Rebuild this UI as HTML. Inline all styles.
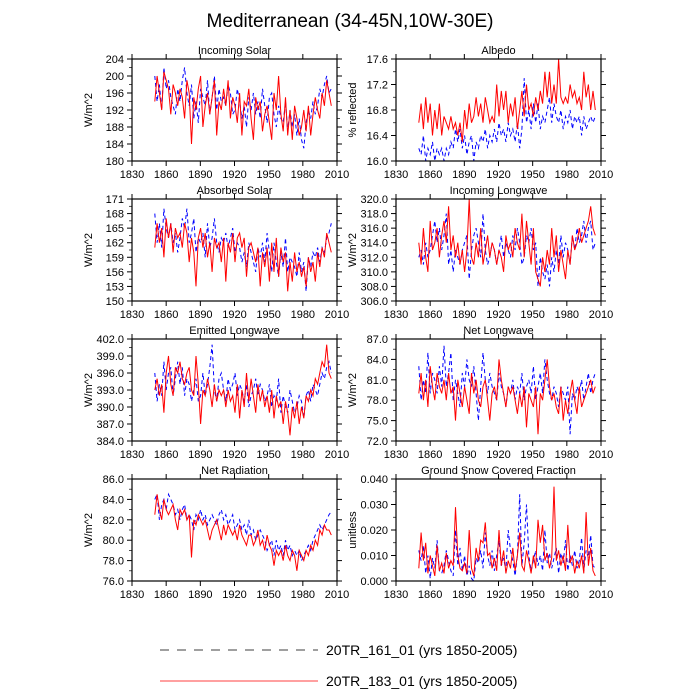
<!DOCTYPE html>
<html><head><meta charset="utf-8">
<style>
html,body{margin:0;padding:0;background:#fff;}
svg{display:block;font-family:"Liberation Sans",Arial,sans-serif;}
</style></head>
<body>
<svg id="chart" width="700" height="700" viewBox="0 0 700 700" xmlns="http://www.w3.org/2000/svg">
<text x="350" y="27" text-anchor="middle" font-size="19">Mediterranean (34-45N,10W-30E)</text>
<g>
<line x1="160" y1="650" x2="318" y2="650" stroke="#000" stroke-width="0.8" stroke-dasharray="9,8"/>
<text x="326" y="655" font-size="14">20TR_161_01 (yrs 1850-2005)</text>
<line x1="160" y1="681" x2="318" y2="681" stroke="#f00" stroke-width="0.8"/>
<text x="326" y="686" font-size="14">20TR_183_01 (yrs 1850-2005)</text>
</g>
</svg>
<script>
const startYear = 1850, endYear = 2005;
const xTicks = [1830,1860,1890,1920,1950,1980,2010];
const titles = ["Incoming Solar","Albedo","Absorbed Solar","Incoming Longwave","Emitted Longwave","Net Longwave","Net Radiation","Ground Snow Covered Fraction"];
const yTitles = ["W/m^2","% reflected","W/m^2","W/m^2","W/m^2","W/m^2","W/m^2","unitless"];
const yMins = [180,16.0,150,306,384,72,76,0];
const yMaxs = [204,17.6,171,320,402,87,86,0.04];
const ySteps = [4,0.4,3,2,3,3,2,0.01];
const yDecimals = [0,1,0,1,1,1,1,3];

const red0 = [194,200,196,192,201,199,197,191,198,196,193,197,195,190,199,196,184,195,192,197,200,188,193,196,191,195,199,186,194,192,197,193,199,190,195,193,189,196,186,194,193,197,190,185,195,192,194,187,191,193,189,185,196,192,200,191,187,195,186,192,185,193,190,186,188,192,187,193,186,191,195,192,190,196,193,199,196,193];
const blue0 = [200,194,198,192,202,197,199,195,193,191,197,194,199,202,196,193,198,190,194,189,197,195,193,199,191,195,200,192,197,194,195,193,198,196,191,192,197,194,190,193,188,195,192,196,191,194,190,197,193,189,195,196,191,188,193,190,189,194,187,192,188,191,186,190,185,183,189,192,190,194,191,193,197,195,198,200,196,197];
const red1 = [16.6,16.9,16.5,17.0,16.6,16.9,16.4,16.8,16.5,16.9,16.4,16.7,16.6,16.5,16.7,16.5,16.6,16.4,16.6,16.3,16.8,16.5,16.9,16.6,16.7,17.0,16.7,16.9,16.6,17.0,16.8,16.6,16.7,16.6,17.2,16.7,17.1,16.8,17.1,16.6,16.9,16.7,17.0,16.5,16.8,17.1,16.7,17.2,16.8,16.9,16.7,17.0,16.8,17.1,16.9,17.4,17.0,17.4,16.9,17.2,16.9,17.6,17.0,16.9,17.0,16.9,17.2,17.0,17.1,16.9,17.0,16.8,17.4,17.0,17.2,16.8,17.1,16.8];
const blue1 = [16.2,16.1,16.4,16.0,16.2,16.1,16.3,16.0,16.2,16.1,16.2,16.0,16.2,16.1,16.3,16.2,16.5,16.3,16.5,16.2,16.4,16.1,16.3,16.4,16.0,16.3,16.2,16.4,16.3,16.5,16.2,16.4,16.3,16.5,16.3,16.6,16.4,16.5,16.3,16.6,16.4,16.5,16.3,16.6,16.2,16.5,17.3,16.6,16.8,16.5,16.9,16.6,16.9,16.5,16.7,16.6,16.8,17.0,16.6,16.9,16.7,16.6,16.8,16.5,16.7,16.6,16.8,16.5,16.7,16.6,16.7,16.4,16.7,16.5,16.6,16.7,16.6,16.7];
const red2 = [161,166,162,165,159,167,163,166,160,165,163,164,161,166,164,158,163,160,153,163,165,161,164,159,162,156,163,161,162,158,163,154,162,160,164,158,163,164,161,163,155,161,162,160,158,161,153,160,157,161,154,162,156,163,155,161,158,160,152,158,154,160,156,158,155,157,153,159,156,158,154,160,157,161,159,164,162,160];
const blue2 = [168,162,166,161,169,165,163,166,162,164,160,163,167,165,169,162,164,167,160,163,162,164,159,166,161,163,167,162,160,163,162,164,161,163,165,160,162,161,158,160,157,162,160,158,156,161,159,162,158,164,160,156,162,158,155,160,157,163,156,159,158,157,155,160,156,158,152,159,157,160,159,161,158,161,160,163,164,166];
const red3 = [314,311,316,312,310,317,313,314,316,312,315,317,314,319,313,315,312,314,311,313,310,313,320,312,311,314,312,316,311,313,315,312,314,313,311,313,312,310,315,313,314,312,316,314,313,318,312,317,314,311,316,310,309,308,312,310,313,311,316,312,315,310,313,311,309,313,311,315,313,314,316,314,315,316,317,319,316,315];
const blue3 = [312,313,311,314,312,313,315,317,314,316,313,315,318,311,313,310,313,312,311,313,314,315,309,313,315,316,314,312,318,313,311,312,314,313,311,313,315,312,314,313,312,315,313,316,314,311,312,315,314,316,313,314,308,312,310,309,311,308,312,310,313,311,315,312,314,313,311,315,313,316,314,315,317,314,316,317,313,314];
const red4 = [393,395,392,394,389,396,399,394,392,397,396,398,395,394,396,397,393,392,399,394,387,393,392,395,393,390,394,391,393,392,393,390,393,391,392,389,394,388,393,390,396,391,395,392,389,394,391,393,390,392,389,393,388,392,390,391,387,391,389,385,390,388,391,387,390,388,392,391,393,392,395,394,396,398,397,401,396,395];
const blue4 = [396,391,394,392,398,393,396,397,392,395,398,394,397,392,395,394,391,393,395,391,392,396,392,394,397,401,393,391,395,396,393,391,395,393,394,396,392,394,393,391,394,390,392,393,395,392,394,393,391,392,394,390,392,391,395,389,392,390,389,393,391,389,390,392,391,388,392,393,391,394,393,392,394,396,395,397,398,396];
const red5 = [79,82,78,81,77,83,80,78,82,80,79,81,78,82,79,80,75,81,79,77,80,78,76,82,79,81,78,77,80,81,78,75,79,80,78,84,81,79,77,80,79,80,78,76,79,77,80,74,79,78,77,80,73,79,78,81,84,80,78,79,77,76,80,75,78,76,79,81,78,76,80,77,78,79,80,81,79,80];
const blue5 = [83,78,81,79,85,79,82,81,79,83,80,86,80,82,85,78,81,79,77,82,80,84,81,80,83,79,75,80,85,81,79,82,80,79,78,82,80,79,77,80,79,81,78,80,79,82,78,80,81,79,83,78,80,82,79,84,81,79,78,80,79,77,80,79,78,80,73,79,78,80,79,81,78,80,82,79,81,82];
const red6 = [82.5,84.5,83,82,84,83,82.5,83,83.5,82,81,83,82.5,83,82,82.5,78.3,82,81.5,82.5,82,81.5,82,81,80,81,81.5,82,81,80,81.5,80.5,81.5,81,80.5,81,80,81.5,80.5,80,79.5,80.5,80.5,79.5,80,81,79.5,80,79,80.5,79.5,79,77.5,79,78.5,79,78,79.5,78.5,78,79,78.5,77,79,78.5,78,79,78.5,79.5,79,80,79.5,81,80.5,81.5,81,81,80.5];
const blue6 = [84,84.5,82,83.5,84,83,84.5,84,83.5,82.5,83,82,83,83.5,82,82.5,82,81,82.5,82,83,82,82.5,81.5,82,82.5,82,81.5,82.5,83,82,82.5,81.5,82,82.5,81,81.5,82,81,81.5,80.5,82,80.5,81,80,80.5,81,80.5,80,79,79.5,80,78.5,80,79,79.5,78.5,80,79,79.5,78.5,79,78.5,79,78,78.5,79,79.5,79,80,80.5,81,81.5,81,81.5,82,82.5,82.8];
const red7 = [0.005,0.019,0.008,0.015,0.003,0.010,0.006,0.002,0.014,0.004,0.007,0.003,0.011,0.005,0.008,0.006,0.029,0.010,0.005,0.004,0.007,0.003,0.020,0.005,0.002,0.013,0.008,0.016,0.015,0.023,0.010,0.011,0.005,0.009,0.004,0.020,0.006,0.012,0.003,0.008,0.005,0.013,0.004,0.010,0.019,0.006,0.004,0.012,0.008,0.003,0.010,0.005,0.024,0.015,0.022,0.008,0.011,0.005,0.009,0.037,0.008,0.012,0.006,0.010,0.004,0.022,0.007,0.010,0.003,0.008,0.005,0.010,0.003,0.027,0.006,0.013,0.004,0.002];
const blue7 = [0.012,0.008,0.014,0.003,0.010,0.001,0.009,0.005,0.016,0.004,0.003,0.006,0.012,0.008,0.004,0.002,0.020,0.006,0.013,0.004,0.010,0.002,0.006,0.001,0.000,0.009,0.007,0.012,0.005,0.019,0.010,0.006,0.012,0.004,0.010,0.016,0.006,0.009,0.004,0.020,0.012,0.008,0.002,0.010,0.034,0.006,0.015,0.030,0.010,0.004,0.008,0.012,0.006,0.010,0.004,0.020,0.007,0.011,0.005,0.009,0.013,0.003,0.011,0.007,0.016,0.004,0.010,0.006,0.012,0.005,0.008,0.017,0.004,0.012,0.009,0.018,0.006,0.005];
const redSeries = [red0,red1,red2,red3,red4,red5,red6,red7];
const blueSeries = [blue0,blue1,blue2,blue3,blue4,blue5,blue6,blue7];

const NS = "http://www.w3.org/2000/svg";
const svg = document.getElementById("chart");
function mk(tag, attrs, parent){
  const e = document.createElementNS(NS, tag);
  for (const k in attrs) e.setAttribute(k, attrs[k]);
  (parent||svg).appendChild(e);
  return e;
}
const panelW = 205, panelH = 102;
const lefts = [132, 396];
const tops = [59, 199, 339, 479];

for (let p = 0; p < 8; p++) {
  const L = lefts[p % 2], T = tops[Math.floor(p / 2)], R = L + panelW, B = T + panelH;
  const g = mk("g", {});
  
  
  const xS = v => L + (v - 1830) / 180 * panelW;
  const yS = v => B - (v - yMins[p]) / (yMaxs[p] - yMins[p]) * panelH;

  const t = mk("text", {x: (L + R) / 2, y: T - 5, "text-anchor": "middle", "font-size": "11"}, g);
  t.textContent = titles[p];
  
  

  const yt = mk("text", {x: 0, y: 0, "text-anchor": "middle", "font-size": "11", transform: "translate(" + (L - 40) + "," + (T + panelH / 2) + ") rotate(-90)"}, g);
  yt.textContent = yTitles[p];
  
  

  // x ticks
  xTicks.forEach(v => {
    const x = xS(v);
    mk("line", {x1: x, y1: B, x2: x, y2: B + 5, stroke: "#000", "stroke-width": 1}, g);
    mk("line", {x1: x, y1: T, x2: x, y2: T - 5, stroke: "#000", "stroke-width": 1}, g);
    const lb = mk("text", {x: x, y: B + 17, "text-anchor": "middle", "font-size": "11"}, g);
    lb.textContent = v;
    
    
  });
  // y ticks
  const nT = Math.round((yMaxs[p] - yMins[p]) / ySteps[p]);
  for (let i = 0; i <= nT; i++) {
    const v = yMins[p] + i * ySteps[p];
    const y = yS(v);
    mk("line", {x1: L, y1: y, x2: L - 5, y2: y, stroke: "#000", "stroke-width": 1}, g);
    mk("line", {x1: R, y1: y, x2: R + 5, y2: y, stroke: "#000", "stroke-width": 1}, g);
    if (i < nT) {
      const ym = yS(v + ySteps[p] / 2);
      mk("line", {x1: L, y1: ym, x2: L - 3, y2: ym, stroke: "#000", "stroke-width": 0.7}, g);
      mk("line", {x1: R, y1: ym, x2: R + 3, y2: ym, stroke: "#000", "stroke-width": 0.7}, g);
    }
    const lb = mk("text", {x: L - 8, y: y + 4, "text-anchor": "end", "font-size": "11"}, g);
    lb.textContent = v.toFixed(yDecimals[p]);
    
    
  }

  const drawSeries = (arr, color, dash, name) => {
    const n = arr.length;
    const pts = arr.map((v, i) => xS(startYear + i * (endYear - startYear) / (n - 1)).toFixed(1) + "," + yS(v).toFixed(1)).join(" ");
    const pl = mk("polyline", {points: pts, fill: "none", stroke: color, "stroke-width": 1, "stroke-dasharray": dash}, g);
    
    
  };
  drawSeries(blueSeries[p], "#0000ff", "4,3", "series-161");
  drawSeries(redSeries[p], "#ff0000", "none", "series-183");

  const fr = mk("rect", {x: L, y: T, width: panelW, height: panelH, fill: "none", stroke: "#000", "stroke-width": 1.2}, g);
  
  
}
</script>
</body></html>
